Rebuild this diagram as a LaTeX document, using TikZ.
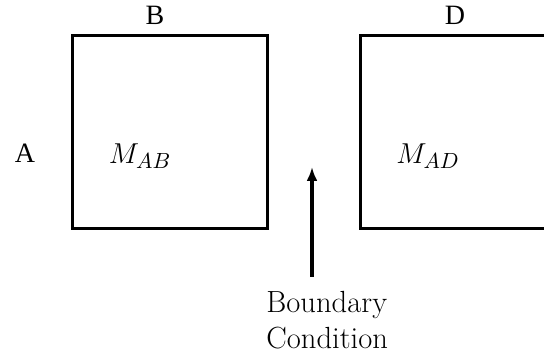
\documentclass[tikz,border=0pt]{standalone}
\usepackage{fontspec}
\newfontfamily\timesf{Liberation Serif}
\usetikzlibrary{arrows.meta}
\tikzset{
  blockbox/.style={draw, line width=1.7pt, minimum width=97.5pt, minimum height=96.5pt, inner sep=0pt, anchor=north west},
  lbl/.style={font=\timesf\fontsize{14}{16}\selectfont, inner sep=0pt},
  mlbl/.style={font=\fontsize{15}{17}\selectfont, inner sep=0pt},
  bclbl/.style={font=\fontsize{15.3}{18}\selectfont, inner sep=0pt, align=left},
  arr/.style={line width=1.7pt, -{Latex[length=7pt,width=5.5pt]}}
}
\begin{document}
\begin{tikzpicture}[x=0.5pt,y=-0.5pt]
\useasboundingbox (0,0) rectangle (544,356);
\clip (0,0) rectangle (544,356);
\node[blockbox] (ab) at (71,34) {};
\node[blockbox] (ad) at (359,34) {};
\node[lbl] (b) at (155,15) {B};
\node[lbl] (d) at (455,15) {D};
\node[lbl] (a) at (25,153) {A};
\node[mlbl] (mab) at (140,156) {$M_{AB}$};
\node[mlbl] (mad) at (428,156) {$M_{AD}$};
\node[bclbl, anchor=north west] (bc) at (266,291) {Boundary\\Condition};
\coordinate (tail) at (312,277);
\coordinate (head) at (312,167);
\draw[arr] (tail) -- (head);
\end{tikzpicture}
\end{document}
